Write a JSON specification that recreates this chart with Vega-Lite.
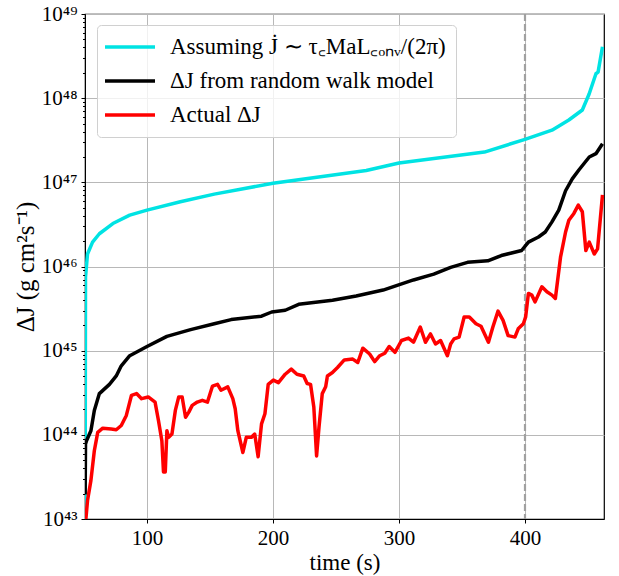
{
  "$schema": "https://vega.github.io/schema/vega-lite/v6.json",
  "width": 519,
  "height": 505,
  "autosize": {"type": "none"},
  "padding": {"left": 85, "top": 14, "right": 15, "bottom": 57},
  "background": "white",
  "config": {
    "font": "Liberation Serif",
    "view": {"stroke": "black", "strokeWidth": 1.2},
    "axis": {"labelFont": "Liberation Serif", "titleFont": "Liberation Serif", "labelColor": "black", "titleColor": "black", "tickColor": "black", "domainColor": "black", "titleFontWeight": "normal", "gridColor": "#b8b8b8", "gridWidth": 1}
  },
  "datasets": {
    "series": [
      {"t": 50.9, "v": 1.2e43, "s": "model"},
      {"t": 51.2, "v": 7.5e45, "s": "model"},
      {"t": 52.8, "v": 1.41e46, "s": "model"},
      {"t": 56.8, "v": 1.95e46, "s": "model"},
      {"t": 62.2, "v": 2.45e46, "s": "model"},
      {"t": 72.9, "v": 3.24e46, "s": "model"},
      {"t": 86.3, "v": 4.07e46, "s": "model"},
      {"t": 100, "v": 4.68e46, "s": "model"},
      {"t": 126.5, "v": 5.89e46, "s": "model"},
      {"t": 153.4, "v": 7.24e46, "s": "model"},
      {"t": 200, "v": 9.77e46, "s": "model"},
      {"t": 274, "v": 1.38e47, "s": "model"},
      {"t": 300, "v": 1.70e47, "s": "model"},
      {"t": 367.8, "v": 2.29e47, "s": "model"},
      {"t": 400, "v": 3.24e47, "s": "model"},
      {"t": 421.4, "v": 4.17e47, "s": "model"},
      {"t": 434.8, "v": 5.50e47, "s": "model"},
      {"t": 445.5, "v": 7.24e47, "s": "model"},
      {"t": 450.9, "v": 1.12e48, "s": "model"},
      {"t": 456.3, "v": 1.95e48, "s": "model"},
      {"t": 458, "v": 2.04e48, "s": "model"},
      {"t": 461.5, "v": 4.07e48, "s": "model"},

      {"t": 50.9, "v": 1.95e43, "s": "walk"},
      {"t": 51.2, "v": 7.76e43, "s": "walk"},
      {"t": 52, "v": 8.51e43, "s": "walk"},
      {"t": 55.5, "v": 1.12e44, "s": "walk"},
      {"t": 58.2, "v": 1.95e44, "s": "walk"},
      {"t": 62.2, "v": 3.09e44, "s": "walk"},
      {"t": 70.2, "v": 3.98e44, "s": "walk"},
      {"t": 75.6, "v": 5.01e44, "s": "walk"},
      {"t": 79.6, "v": 6.61e44, "s": "walk"},
      {"t": 86.3, "v": 8.71e44, "s": "walk"},
      {"t": 100, "v": 1.12e45, "s": "walk"},
      {"t": 115.8, "v": 1.48e45, "s": "walk"},
      {"t": 134.6, "v": 1.78e45, "s": "walk"},
      {"t": 153.4, "v": 2.09e45, "s": "walk"},
      {"t": 166.8, "v": 2.34e45, "s": "walk"},
      {"t": 190.9, "v": 2.57e45, "s": "walk"},
      {"t": 199, "v": 2.88e45, "s": "walk"},
      {"t": 209.7, "v": 3.02e45, "s": "walk"},
      {"t": 220.4, "v": 3.55e45, "s": "walk"},
      {"t": 247.2, "v": 3.98e45, "s": "walk"},
      {"t": 266, "v": 4.47e45, "s": "walk"},
      {"t": 287.4, "v": 5.25e45, "s": "walk"},
      {"t": 311.5, "v": 6.92e45, "s": "walk"},
      {"t": 327.6, "v": 8.13e45, "s": "walk"},
      {"t": 341, "v": 9.77e45, "s": "walk"},
      {"t": 354.4, "v": 1.12e46, "s": "walk"},
      {"t": 370.5, "v": 1.17e46, "s": "walk"},
      {"t": 381.2, "v": 1.35e46, "s": "walk"},
      {"t": 397.3, "v": 1.55e46, "s": "walk"},
      {"t": 402.7, "v": 1.95e46, "s": "walk"},
      {"t": 410.7, "v": 2.24e46, "s": "walk"},
      {"t": 416.1, "v": 2.57e46, "s": "walk"},
      {"t": 421.4, "v": 3.39e46, "s": "walk"},
      {"t": 426.8, "v": 4.68e46, "s": "walk"},
      {"t": 432.2, "v": 7.94e46, "s": "walk"},
      {"t": 437.5, "v": 1.10e47, "s": "walk"},
      {"t": 442.9, "v": 1.41e47, "s": "walk"},
      {"t": 451, "v": 2.0e47, "s": "walk"},
      {"t": 456.3, "v": 2.19e47, "s": "walk"},
      {"t": 461.5, "v": 2.88e47, "s": "walk"},

      {"t": 51.5, "v": 1.0e43, "s": "actual"},
      {"t": 52.8, "v": 1.66e43, "s": "actual"},
      {"t": 55.5, "v": 2.88e43, "s": "actual"},
      {"t": 58.2, "v": 6.46e43, "s": "actual"},
      {"t": 60.9, "v": 1.07e44, "s": "actual"},
      {"t": 64.9, "v": 1.20e44, "s": "actual"},
      {"t": 71.6, "v": 1.17e44, "s": "actual"},
      {"t": 75.6, "v": 1.15e44, "s": "actual"},
      {"t": 79.6, "v": 1.29e44, "s": "actual"},
      {"t": 83.6, "v": 1.70e44, "s": "actual"},
      {"t": 87.7, "v": 2.95e44, "s": "actual"},
      {"t": 91.7, "v": 3.09e44, "s": "actual"},
      {"t": 95.7, "v": 2.69e44, "s": "actual"},
      {"t": 101, "v": 2.82e44, "s": "actual"},
      {"t": 106.4, "v": 2.45e44, "s": "actual"},
      {"t": 109.1, "v": 1.48e44, "s": "actual"},
      {"t": 111.8, "v": 8.51e43, "s": "actual"},
      {"t": 113.1, "v": 3.63e43, "s": "actual"},
      {"t": 114.5, "v": 3.63e43, "s": "actual"},
      {"t": 115.8, "v": 1.12e44, "s": "actual"},
      {"t": 117.2, "v": 9.33e43, "s": "actual"},
      {"t": 119.8, "v": 1.02e44, "s": "actual"},
      {"t": 122.5, "v": 1.95e44, "s": "actual"},
      {"t": 125.2, "v": 2.82e44, "s": "actual"},
      {"t": 127.9, "v": 2.82e44, "s": "actual"},
      {"t": 130.6, "v": 1.62e44, "s": "actual"},
      {"t": 133.2, "v": 1.86e44, "s": "actual"},
      {"t": 135.9, "v": 2.24e44, "s": "actual"},
      {"t": 139.9, "v": 2.45e44, "s": "actual"},
      {"t": 143.9, "v": 2.57e44, "s": "actual"},
      {"t": 148, "v": 2.45e44, "s": "actual"},
      {"t": 152, "v": 3.80e44, "s": "actual"},
      {"t": 156, "v": 3.98e44, "s": "actual"},
      {"t": 158.7, "v": 3.39e44, "s": "actual"},
      {"t": 164.1, "v": 3.72e44, "s": "actual"},
      {"t": 168.1, "v": 2.69e44, "s": "actual"},
      {"t": 170, "v": 2.04e44, "s": "actual"},
      {"t": 172.1, "v": 1.12e44, "s": "actual"},
      {"t": 176.1, "v": 6.17e43, "s": "actual"},
      {"t": 178.8, "v": 9.33e43, "s": "actual"},
      {"t": 182.8, "v": 9.33e43, "s": "actual"},
      {"t": 185.5, "v": 1.02e44, "s": "actual"},
      {"t": 188.2, "v": 5.50e43, "s": "actual"},
      {"t": 190.9, "v": 1.35e44, "s": "actual"},
      {"t": 193.6, "v": 1.78e44, "s": "actual"},
      {"t": 196.2, "v": 3.98e44, "s": "actual"},
      {"t": 200.3, "v": 4.47e44, "s": "actual"},
      {"t": 204.3, "v": 4.17e44, "s": "actual"},
      {"t": 209.7, "v": 5.25e44, "s": "actual"},
      {"t": 214.5, "v": 6.03e44, "s": "actual"},
      {"t": 219, "v": 5.25e44, "s": "actual"},
      {"t": 224.4, "v": 5.01e44, "s": "actual"},
      {"t": 227.1, "v": 4.07e44, "s": "actual"},
      {"t": 229.8, "v": 3.98e44, "s": "actual"},
      {"t": 232.4, "v": 2.14e44, "s": "actual"},
      {"t": 234.6, "v": 5.62e43, "s": "actual"},
      {"t": 236.5, "v": 1.23e44, "s": "actual"},
      {"t": 239.1, "v": 3.09e44, "s": "actual"},
      {"t": 241.8, "v": 3.72e44, "s": "actual"},
      {"t": 243.2, "v": 5.01e44, "s": "actual"},
      {"t": 247.2, "v": 5.50e44, "s": "actual"},
      {"t": 251.2, "v": 6.31e44, "s": "actual"},
      {"t": 256.6, "v": 7.76e44, "s": "actual"},
      {"t": 263.3, "v": 7.94e44, "s": "actual"},
      {"t": 267.3, "v": 7.24e44, "s": "actual"},
      {"t": 271.3, "v": 1.07e45, "s": "actual"},
      {"t": 276.7, "v": 9.12e44, "s": "actual"},
      {"t": 280.7, "v": 7.41e44, "s": "actual"},
      {"t": 284.7, "v": 8.71e44, "s": "actual"},
      {"t": 288.7, "v": 9.33e44, "s": "actual"},
      {"t": 292.2, "v": 1.12e45, "s": "actual"},
      {"t": 296.8, "v": 9.55e44, "s": "actual"},
      {"t": 302, "v": 1.32e45, "s": "actual"},
      {"t": 307.5, "v": 1.41e45, "s": "actual"},
      {"t": 311.5, "v": 1.26e45, "s": "actual"},
      {"t": 316.9, "v": 1.91e45, "s": "actual"},
      {"t": 321, "v": 1.26e45, "s": "actual"},
      {"t": 325, "v": 1.58e45, "s": "actual"},
      {"t": 329, "v": 1.20e45, "s": "actual"},
      {"t": 333, "v": 1.32e45, "s": "actual"},
      {"t": 338.4, "v": 8.71e44, "s": "actual"},
      {"t": 341, "v": 1.20e45, "s": "actual"},
      {"t": 343.7, "v": 1.38e45, "s": "actual"},
      {"t": 347.7, "v": 1.45e45, "s": "actual"},
      {"t": 351.7, "v": 2.51e45, "s": "actual"},
      {"t": 355.8, "v": 2.51e45, "s": "actual"},
      {"t": 361.1, "v": 2.09e45, "s": "actual"},
      {"t": 365.1, "v": 1.95e45, "s": "actual"},
      {"t": 371, "v": 1.26e45, "s": "actual"},
      {"t": 374.5, "v": 1.91e45, "s": "actual"},
      {"t": 378.6, "v": 2.95e45, "s": "actual"},
      {"t": 382.6, "v": 2.29e45, "s": "actual"},
      {"t": 386.6, "v": 1.51e45, "s": "actual"},
      {"t": 392, "v": 1.45e45, "s": "actual"},
      {"t": 394.6, "v": 1.82e45, "s": "actual"},
      {"t": 398.7, "v": 2.09e45, "s": "actual"},
      {"t": 400.5, "v": 2.51e45, "s": "actual"},
      {"t": 402.7, "v": 4.79e45, "s": "actual"},
      {"t": 405.4, "v": 4.57e45, "s": "actual"},
      {"t": 408, "v": 3.80e45, "s": "actual"},
      {"t": 413.4, "v": 5.75e45, "s": "actual"},
      {"t": 417.4, "v": 5.01e45, "s": "actual"},
      {"t": 421.4, "v": 4.57e45, "s": "actual"},
      {"t": 424.1, "v": 4.17e45, "s": "actual"},
      {"t": 428.2, "v": 1.29e46, "s": "actual"},
      {"t": 432.2, "v": 2.57e46, "s": "actual"},
      {"t": 434.8, "v": 3.55e46, "s": "actual"},
      {"t": 438.8, "v": 4.27e46, "s": "actual"},
      {"t": 442.3, "v": 5.37e46, "s": "actual"},
      {"t": 445.5, "v": 4.47e46, "s": "actual"},
      {"t": 448.3, "v": 1.55e46, "s": "actual"},
      {"t": 451, "v": 1.95e46, "s": "actual"},
      {"t": 455, "v": 1.41e46, "s": "actual"},
      {"t": 457.6, "v": 1.62e46, "s": "actual"},
      {"t": 461.5, "v": 7.08e46, "s": "actual"}
    ],
    "marker": [{"t": 400}]
  },
  "resolve": {"axis": {"y": "independent"}},
  "layer": [
    {
      "data": {"name": "marker"},
      "mark": {"type": "rule", "color": "#a0a0a0", "strokeWidth": 2.2, "strokeDash": [7, 3]},
      "encoding": {
        "x": {"field": "t", "type": "quantitative", "scale": {"domain": [50.8, 462.7], "nice": false, "zero": false}}
      }
    },
    {
      "data": {"name": "series"},
      "mark": {"type": "line", "strokeWidth": 3.5, "strokeJoin": "round", "clip": true},
      "encoding": {
        "x": {"field": "t", "type": "quantitative", "scale": {"domain": [50.8, 462.7], "nice": false, "zero": false},
          "axis": {"title": "time (s)", "values": [100, 200, 300, 400], "format": "d", "grid": true, "tickSize": 4, "labelFontSize": 21, "titleFontSize": 23, "labelPadding": 4, "titlePadding": 3}},
        "y": {"field": "v", "type": "quantitative", "scale": {"type": "log", "domain": [1e43, 1e49], "nice": false},
          "axis": {"orient": "left", "title": "ΔJ (g cm²s⁻¹)", "values": [1e43, 1e44, 1e45, 1e46, 1e47, 1e48, 1e49], "grid": true, "tickSize": 4, "labelFontSize": 21, "titleFontSize": 25, "labelPadding": 4, "titlePadding": 3,
            "labelExpr": "['10⁴³','10⁴⁴','10⁴⁵','10⁴⁶','10⁴⁷','10⁴⁸','10⁴⁹'][round(log(datum.value)/LN10)-43]"}},
        "color": {"field": "s", "type": "nominal",
          "scale": {"domain": ["model", "walk", "actual"], "range": ["#00e3e3", "#000000", "#ff0000"]},
          "legend": {"title": null, "orient": "none", "legendX": 12, "legendY": 11, "direction": "vertical",
            "symbolType": "M-2.5,0H2.5", "symbolSize": 400, "symbolStrokeWidth": 3.5, "symbolOffset": 11,
            "labelOffset": 28, "labelFontSize": 23, "labelFont": "Liberation Serif", "labelColor": "black", "labelLimit": 400,
            "rowPadding": 10, "padding": 10, "fillColor": "rgba(255,255,255,0.8)", "strokeColor": "#d0d0d0", "cornerRadius": 4,
            "labelExpr": "datum.value == 'model' ? 'Assuming J̇ ∼ τ꜀MaL꜀ₒₙᵥ/(2π)' : datum.value == 'walk' ? 'ΔJ from random walk model' : 'Actual ΔJ'"}},
        "order": {"field": "t", "type": "quantitative"}
      }
    },
    {
      "data": {"name": "series"},
      "mark": {"type": "line", "strokeOpacity": 0},
      "encoding": {
        "x": {"field": "t", "type": "quantitative"},
        "y": {"field": "v", "type": "quantitative",
          "axis": {"orient": "left", "title": null, "labels": false, "grid": false, "domain": false, "tickSize": 2.5,
            "values": [2e43, 3e43, 4e43, 5e43, 6e43, 7e43, 8e43, 9e43, 2e44, 3e44, 4e44, 5e44, 6e44, 7e44, 8e44, 9e44, 2e45, 3e45, 4e45, 5e45, 6e45, 7e45, 8e45, 9e45, 2e46, 3e46, 4e46, 5e46, 6e46, 7e46, 8e46, 9e46, 2e47, 3e47, 4e47, 5e47, 6e47, 7e47, 8e47, 9e47, 2e48, 3e48, 4e48, 5e48, 6e48, 7e48, 8e48, 9e48]}},
        "detail": {"field": "s"}
      }
    }
  ]
}
